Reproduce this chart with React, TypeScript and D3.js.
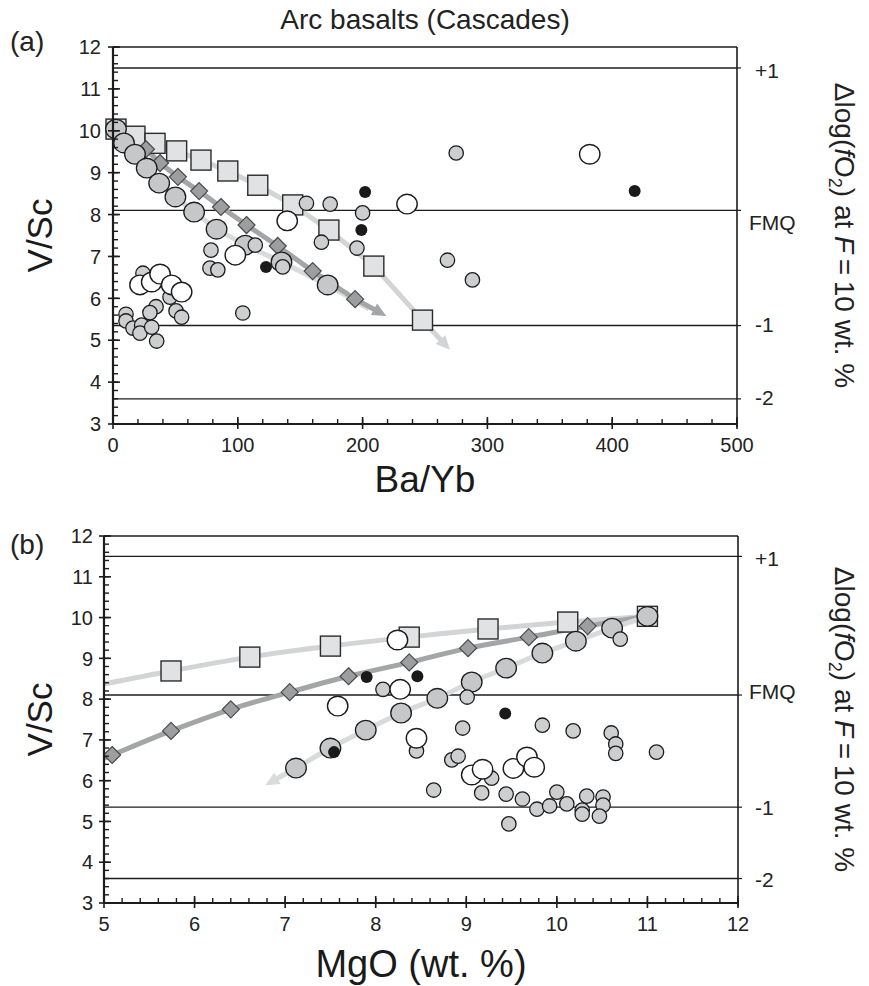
import React from 'react';
import * as d3 from 'd3';

// ---------- shared ----------
const refLevels = [11.5, 8.1, 5.35, 3.6];
const refLabels = ['+1', 'FMQ', '-1', '-2'];
const yTickValues = [3, 4, 5, 6, 7, 8, 9, 10, 11, 12];

// ---------- panel (a): V/Sc vs Ba/Yb ----------
const aXTicks = [0, 100, 200, 300, 400, 500];
const aSquareX = [2.4, 17.6, 33.7, 51, 70.5, 92, 116, 144, 173, 209, 248];
const aSquareY = [10.04, 9.87, 9.7, 9.52, 9.3, 9.04, 8.7, 8.23, 7.63, 6.77, 5.48];
const aSquareTip = [270, 4.77];
const aDiamondX = [2.4, 26.4, 37.7, 52, 69, 86.5, 107, 132, 160, 194];
const aDiamondY = [10.04, 9.56, 9.23, 8.9, 8.56, 8.18, 7.75, 7.25, 6.65, 5.98];
const aDiamondTip = [219, 5.58];
const aModelX = [2.4, 8.8, 17.6, 27, 37, 50, 65, 83, 106, 135, 172];
const aModelY = [10.04, 9.71, 9.44, 9.11, 8.75, 8.42, 8.06, 7.65, 7.27, 6.87, 6.32];
const aModelEnd = [205, 5.75];
const aGrayX = [155, 174, 200, 167, 195.5, 78.5, 114, 77.7, 84, 136, 24, 45.7, 50.5, 55, 34.5, 29.6, 10.4, 10.4, 16, 23, 21.6, 31, 35, 104, 275, 268, 288];
const aGrayY = [8.27, 8.25, 8.04, 7.34, 7.2, 7.15, 7.27, 6.72, 6.68, 6.75, 6.6, 6.03, 5.7, 5.55, 5.8, 5.66, 5.62, 5.46, 5.29, 5.36, 5.17, 5.31, 4.98, 5.65, 9.47, 6.91, 6.44];
const aWhiteX = [235.6, 139.6, 98, 21.6, 31, 37.7, 47, 55, 382];
const aWhiteY = [8.25, 7.85, 7.03, 6.32, 6.39, 6.58, 6.32, 6.15, 9.44];
const aBlackX = [202, 199, 122.6, 418];
const aBlackY = [8.54, 7.63, 6.75, 8.56];

// ---------- panel (b): V/Sc vs MgO ----------
const bXTicks = [5, 6, 7, 8, 9, 10, 11, 12];
const bSquareX = [5.74, 6.61, 7.5, 8.37, 9.24, 10.12, 11.0];
const bSquareY = [8.69, 9.03, 9.3, 9.52, 9.72, 9.89, 10.03];
const bSquareLineStart = [5.0, 8.37];
const bDiamondX = [5.09, 5.74, 6.4, 7.05, 7.7, 8.37, 9.02, 9.69, 10.34, 11.0];
const bDiamondY = [6.63, 7.22, 7.75, 8.17, 8.56, 8.9, 9.25, 9.52, 9.79, 10.03];
const bDiamondLineStart = [5.0, 6.55];
const bModelX = [11.0, 10.61, 10.21, 9.84, 9.44, 9.06, 8.68, 8.28, 7.89, 7.5, 7.12];
const bModelY = [10.03, 9.74, 9.42, 9.13, 8.76, 8.42, 8.02, 7.66, 7.24, 6.8, 6.31];
const bModelTip = [6.78, 5.89];
const bGrayX = [8.08, 9.01, 8.96, 8.45, 8.84, 8.91, 8.64, 9.17, 9.28, 9.44, 9.84, 10.18, 10.6, 10.65, 10.65, 11.1, 9.62, 9.78, 9.92, 10.0, 10.11, 10.28, 10.28, 10.33, 10.51, 10.51, 10.47, 9.47, 10.7];
const bGrayY = [8.24, 8.05, 7.29, 6.73, 6.51, 6.6, 5.77, 5.7, 6.06, 5.67, 7.36, 7.22, 7.17, 6.9, 6.67, 6.7, 5.55, 5.3, 5.38, 5.72, 5.43, 5.28, 5.18, 5.62, 5.6, 5.4, 5.13, 4.94, 9.47];
const bWhiteX = [8.24, 8.27, 7.58, 8.45, 9.06, 9.18, 9.52, 9.67, 9.75];
const bWhiteY = [9.45, 8.24, 7.83, 7.04, 6.14, 6.28, 6.3, 6.58, 6.33];
const bBlackX = [7.9, 8.46, 7.54, 9.43];
const bBlackY = [8.54, 8.56, 6.7, 7.65];

type Pt = [number, number];
const zip = (xs: number[], ys: number[]): Pt[] => xs.map((x, i) => [x, ys[i]] as Pt);

const FONT = "'Liberation Sans', Arial, Helvetica, sans-serif";
const C = {
  sqFill: '#e1e2e4',
  diaFill: '#9c9ea0',
  modelFill: '#c6c7c9',
  grayFill: '#cdced0',
  sqLine: '#d3d4d6',
  diaLine: '#a3a5a7',
  modelLine: '#d9dadc',
  ink: '#1c1c1c',
};

function arrowParts(px: Pt[], len = 14, half = 6.5) {
  const p2 = px[px.length - 1];
  const p1 = px[px.length - 2];
  const dx = p2[0] - p1[0];
  const dy = p2[1] - p1[1];
  const L = Math.hypot(dx, dy);
  const ux = dx / L;
  const uy = dy / L;
  const bx = p2[0] - ux * len;
  const by = p2[1] - uy * len;
  const head = `M${p2[0]},${p2[1]}L${bx - uy * half},${by + ux * half}L${bx + uy * half},${by - ux * half}Z`;
  const trimmed = px.slice(0, -1).concat([[bx + ux * 2, by + uy * 2] as Pt]);
  return { head, trimmed };
}

interface LineSpec { pts: Pt[]; color: string; arrow: boolean; }
interface PanelProps {
  xDomain: [number, number];
  xRange: [number, number];
  yRange: [number, number];
  xTicks: number[];
  xMinor: number;
  curve: any;
  lines: LineSpec[];
  squares: Pt[];
  diamonds: Pt[];
  model: Pt[];
  gray: Pt[];
  white: Pt[];
  black: Pt[];
  labelDy: number[];
  tag: string;
  xLabel: string;
  xLabelY: number;
  xLabelSize: number;
  yLabelX: number;
  yTickX: number;
}

function Panel(p: PanelProps) {
  const x = d3.scaleLinear().domain(p.xDomain).range(p.xRange);
  const y = d3.scaleLinear().domain([3, 12]).range(p.yRange);
  const [x0, x1] = p.xRange;
  const [yb, yt] = p.yRange;
  const line = d3.line<Pt>().x((d) => d[0]).y((d) => d[1]).curve(p.curve);
  const toPx = (pts: Pt[]): Pt[] => pts.map((d) => [x(d[0]), y(d[1])] as Pt);
  const yMinor = d3.range(3, 12.001, 0.2);
  const xMinor = d3.range(p.xDomain[0], p.xDomain[1] + 1e-6, p.xMinor);
  const midY = (yb + yt) / 2;

  return (
    <g>
      <defs>
        <clipPath id={`clip-${p.tag}`}>
          <rect x={x0} y={yt} width={x1 - x0} height={yb - yt} />
        </clipPath>
      </defs>
      {refLevels.map((v, i) => (
        <line key={'r' + i} x1={x0} x2={x1} y1={y(v)} y2={y(v)} stroke={C.ink} strokeWidth={1.4} />
      ))}
      <g clipPath={`url(#clip-${p.tag})`}>
        {p.lines.map((l, i) => {
          const px = toPx(l.pts);
          if (l.arrow) {
            const a = arrowParts(px);
            return (
              <g key={'l' + i}>
                <path d={line(a.trimmed) || ''} fill="none" stroke={l.color} strokeWidth={5} />
                <path d={a.head} fill={l.color} />
              </g>
            );
          }
          return <path key={'l' + i} d={line(px) || ''} fill="none" stroke={l.color} strokeWidth={5} />;
        })}
      </g>
      {p.squares.map((d, i) => (
        <rect key={'s' + i} x={x(d[0]) - 10} y={y(d[1]) - 10} width={20} height={20} fill={C.sqFill} stroke="#2b2b2b" strokeWidth={1.4} />
      ))}
      {p.diamonds.map((d, i) => {
        const cx = x(d[0]);
        const cy = y(d[1]);
        return (
          <path key={'d' + i} d={`M${cx},${cy - 8.5}L${cx + 8.5},${cy}L${cx},${cy + 8.5}L${cx - 8.5},${cy}Z`} fill={C.diaFill} stroke="#4a4a4a" strokeWidth={1.2} />
        );
      })}
      {p.model.map((d, i) => (
        <ellipse key={'m' + i} cx={x(d[0])} cy={y(d[1])} rx={10.3} ry={9.8} fill={C.modelFill} stroke={C.ink} strokeWidth={1.3} />
      ))}
      {p.gray.map((d, i) => (
        <circle key={'g' + i} cx={x(d[0])} cy={y(d[1])} r={7.2} fill={C.grayFill} stroke={C.ink} strokeWidth={1.3} />
      ))}
      {p.white.map((d, i) => (
        <ellipse key={'w' + i} cx={x(d[0])} cy={y(d[1])} rx={10.2} ry={9.8} fill="#ffffff" stroke={C.ink} strokeWidth={1.4} />
      ))}
      {p.black.map((d, i) => (
        <circle key={'b' + i} cx={x(d[0])} cy={y(d[1])} r={6} fill="#1a1a1a" />
      ))}
      <line x1={x0} x2={x1} y1={yt} y2={yt} stroke={C.ink} strokeWidth={1.6} />
      <line x1={x1} x2={x1} y1={yt} y2={yb + 3} stroke={C.ink} strokeWidth={1.6} />
      <line x1={x0} x2={x0} y1={yt} y2={yb} stroke={C.ink} strokeWidth={2.2} />
      <line x1={x0} x2={x1} y1={yb} y2={yb} stroke={C.ink} strokeWidth={2.2} />
      {refLevels.map((v, i) => (
        <line key={'rt' + i} x1={x1} x2={x1 + 4} y1={y(v)} y2={y(v)} stroke={C.ink} strokeWidth={1.2} />
      ))}
      {yMinor.map((v, i) => (
        <line key={'ym' + i} x1={x0} x2={x0 + 5} y1={y(v)} y2={y(v)} stroke={C.ink} strokeWidth={1.4} />
      ))}
      {yTickValues.map((v) => (
        <g key={'yt' + v}>
          <line x1={x0 - 5} x2={x0 + 7} y1={y(v)} y2={y(v)} stroke={C.ink} strokeWidth={1.6} />
          <text x={p.yTickX} y={y(v)} dy="0.36em" textAnchor="end" fontSize={20} fontFamily={FONT} fill="#222">
            {v}
          </text>
        </g>
      ))}
      {xMinor.map((v, i) => (
        <line key={'xm' + i} x1={x(v)} x2={x(v)} y1={yb} y2={yb - 5} stroke={C.ink} strokeWidth={1.4} />
      ))}
      {p.xTicks.map((v) => (
        <g key={'xt' + v}>
          <line x1={x(v)} x2={x(v)} y1={yb + 5} y2={yb - 7} stroke={C.ink} strokeWidth={1.6} />
          <text x={x(v)} y={yb + 28} textAnchor="middle" fontSize={20} fontFamily={FONT} fill="#222">
            {v}
          </text>
        </g>
      ))}
      {refLabels.map((t, i) => (
        <text key={'rl' + i} x={t === 'FMQ' ? 749 : 755} y={y(refLevels[i]) + p.labelDy[i]} dy="0.36em" fontSize={21} fontFamily={FONT} fill="#222">
          {t}
        </text>
      ))}
      <text transform={`translate(835,${midY}) rotate(90)`} textAnchor="middle" fontSize={28} fontFamily={FONT} fill="#222">
        <tspan>Δlog(</tspan>
        <tspan fontStyle="italic">f</tspan>
        <tspan>O</tspan>
        <tspan fontSize={18} dy={6}>2</tspan>
        <tspan dy={-6}>) at </tspan>
        <tspan fontStyle="italic">F</tspan>
        <tspan>{'\u2009=\u200910 wt. %'}</tspan>
      </text>
      <text x={(x0 + x1) / 2} y={p.xLabelY} textAnchor="middle" fontSize={p.xLabelSize} fontFamily={FONT} fill="#1a1a1a">
        {p.xLabel}
      </text>
      <text transform={`translate(${p.yLabelX},${midY}) rotate(-90)`} textAnchor="middle" fontSize={35} fontFamily={FONT} fill="#1a1a1a">
        V/Sc
      </text>
      <text x={10} y={p.tag === 'a' ? 51 : 554} fontSize={28} fontFamily={FONT} fill="#222">
        ({p.tag})
      </text>
    </g>
  );
}

export default function App() {
  const aLines: LineSpec[] = [
    { pts: zip(aModelX, aModelY).concat([aModelEnd as Pt]), color: C.modelLine, arrow: false },
    { pts: zip(aSquareX, aSquareY).concat([aSquareTip as Pt]), color: C.sqLine, arrow: true },
    { pts: zip(aDiamondX, aDiamondY).concat([aDiamondTip as Pt]), color: C.diaLine, arrow: true },
  ];
  const bLines: LineSpec[] = [
    { pts: [bSquareLineStart as Pt].concat(zip(bSquareX, bSquareY)), color: C.sqLine, arrow: false },
    { pts: [bDiamondLineStart as Pt].concat(zip(bDiamondX, bDiamondY)), color: C.diaLine, arrow: false },
    { pts: zip(bModelX, bModelY).concat([bModelTip as Pt]), color: C.modelLine, arrow: true },
  ];
  return (
    <svg width={869} height={986} style={{ position: 'absolute', left: 0, top: 0, background: '#fff' }}>
      <rect width={869} height={986} fill="#fff" />
      <text x={425} y={29} textAnchor="middle" fontSize={28} fontFamily={FONT} fill="#222">
        Arc basalts (Cascades)
      </text>
      <Panel
        tag="a"
        xDomain={[0, 500]}
        xRange={[113, 737]}
        yRange={[424, 47]}
        xTicks={aXTicks}
        xMinor={20}
        curve={d3.curveLinear}
        lines={aLines}
        squares={zip(aSquareX, aSquareY)}
        diamonds={zip(aDiamondX, aDiamondY)}
        model={zip(aModelX, aModelY)}
        gray={zip(aGrayX, aGrayY)}
        white={zip(aWhiteX, aWhiteY)}
        black={zip(aBlackX, aBlackY)}
        labelDy={[2, 12, -1, -1]}
        xLabel="Ba/Yb"
        xLabelY={492}
        xLabelSize={37}
        yLabelX={52}
        yTickX={101}
      />
      <Panel
        tag="b"
        xDomain={[5, 12]}
        xRange={[104, 738]}
        yRange={[903, 536]}
        xTicks={bXTicks}
        xMinor={0.2}
        curve={d3.curveCatmullRom}
        lines={bLines}
        squares={zip(bSquareX, bSquareY)}
        diamonds={zip(bDiamondX, bDiamondY)}
        model={zip(bModelX, bModelY)}
        gray={zip(bGrayX, bGrayY)}
        white={zip(bWhiteX, bWhiteY)}
        black={zip(bBlackX, bBlackY)}
        labelDy={[2, -4, 0, 1]}
        xLabel="MgO (wt. %)"
        xLabelY={977}
        xLabelSize={38}
        yLabelX={52}
        yTickX={93}
      />
    </svg>
  );
}
